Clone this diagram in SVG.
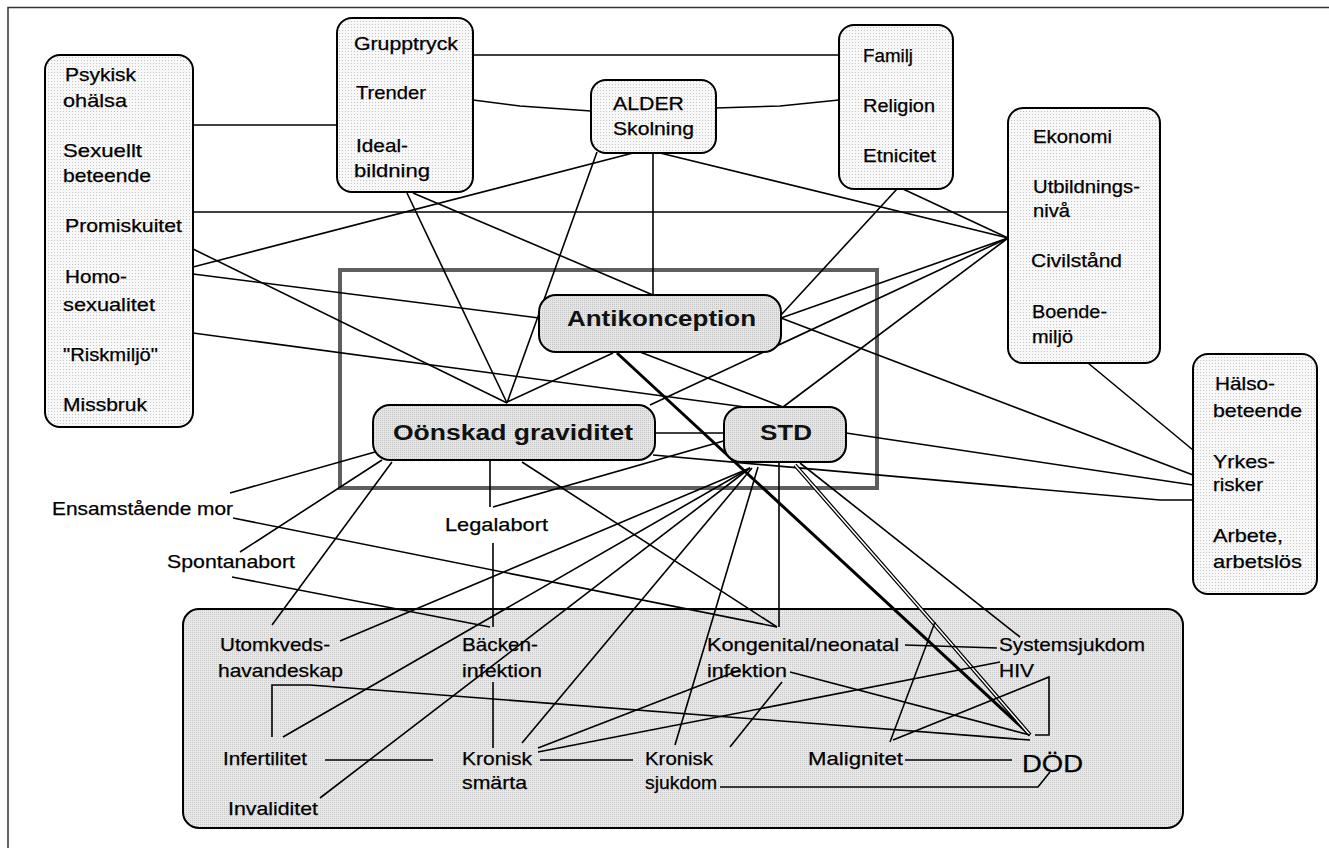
<svg xmlns="http://www.w3.org/2000/svg" width="1329" height="848" viewBox="0 0 1329 848">
<defs>
<pattern id="pLight" width="3" height="3" patternUnits="userSpaceOnUse"><rect width="3" height="3" fill="#f8f8f8"/><rect width="1" height="1" fill="#c4c4c4"/></pattern>
<pattern id="pMid" width="2" height="2" patternUnits="userSpaceOnUse"><rect width="2" height="2" fill="#e6e6e6"/><rect width="1" height="1" fill="#c2c2c2"/></pattern>
<pattern id="pBottom" width="2" height="2" patternUnits="userSpaceOnUse"><rect width="2" height="2" fill="#e8e8e8"/><rect width="1" height="1" fill="#c8c8c8"/></pattern>
</defs>
<style>
.box{stroke:#000;stroke-width:2}
.t{font-family:"Liberation Sans",Arial,sans-serif;font-size:19px;fill:#000;stroke:#000;stroke-width:0.25}
.b{font-family:"Liberation Sans",Arial,sans-serif;font-size:22px;font-weight:bold;fill:#111}
.c line,.c polyline{stroke:#000;stroke-width:1.6;fill:none}
</style>
<rect width="1329" height="848" fill="#fff"/>
<path d="M8,848 V7.5 H1329" fill="none" stroke="#333" stroke-width="1.5"/>

<g id="bottom-box">
<rect class="box" x="183" y="609" width="1000" height="219" rx="16" fill="url(#pBottom)"/>
</g>
<g id="center-frame">
<rect x="340" y="270" width="537" height="218" fill="none" stroke="#5e5e5e" stroke-width="4"/>
</g>

<g class="c" id="connectors">
<line x1="193" y1="125" x2="337" y2="125"/>
<line x1="473" y1="55" x2="839" y2="55"/>
<polyline points="473,100 520,106 591,111"/>
<polyline points="716,108 780,106 839,100"/>
<line x1="193" y1="212" x2="1008" y2="212"/>
<line x1="193" y1="249" x2="507" y2="403"/>
<line x1="193" y1="267" x2="633" y2="153"/>
<line x1="193" y1="274" x2="539" y2="318"/>
<line x1="193" y1="333" x2="745" y2="407"/>
<line x1="407" y1="193" x2="507" y2="403"/>
<line x1="413" y1="193" x2="653" y2="295"/>
<line x1="653" y1="153" x2="653" y2="295"/>
<line x1="597" y1="152" x2="507" y2="403"/>
<line x1="660" y1="153" x2="1008" y2="238"/>
<line x1="897" y1="189" x2="781" y2="315"/>
<line x1="903" y1="189" x2="1008" y2="238"/>
<line x1="1008" y1="238" x2="781" y2="318"/>
<line x1="1008" y1="238" x2="650" y2="405"/>
<line x1="1008" y1="238" x2="783" y2="407"/>
<line x1="613" y1="353" x2="507" y2="402"/>
<line x1="640" y1="352" x2="783" y2="407"/>
<line x1="617" y1="353" x2="1030" y2="735" style="stroke-width:3"/>
<line x1="781" y1="318" x2="1193" y2="475"/>
<line x1="846" y1="433" x2="1193" y2="485"/>
<polyline points="653,455 1160,500 1193,500"/>
<line x1="1088" y1="363" x2="1193" y2="450"/>
<line x1="655" y1="433" x2="724" y2="433"/>
<line x1="490" y1="460" x2="490" y2="507"/>
<line x1="493" y1="507" x2="727" y2="440"/>
<line x1="493" y1="543" x2="493" y2="627"/>
<line x1="493" y1="682" x2="493" y2="748"/>
<line x1="230" y1="493" x2="375" y2="452"/>
<line x1="233" y1="518" x2="777" y2="627"/>
<line x1="240" y1="552" x2="382" y2="460"/>
<line x1="232" y1="577" x2="490" y2="627"/>
<line x1="272" y1="625" x2="392" y2="462"/>
<line x1="340" y1="641" x2="750" y2="468"/>
<line x1="283" y1="737" x2="750" y2="468"/>
<line x1="320" y1="798" x2="750" y2="468"/>
<line x1="522" y1="743" x2="752" y2="468"/>
<line x1="779" y1="462" x2="779" y2="627"/>
<line x1="522" y1="462" x2="777" y2="627"/>
<polyline points="272,737 272,685 310,685 1030,740"/>
<line x1="325" y1="760" x2="433" y2="760"/>
<line x1="540" y1="760" x2="633" y2="760"/>
<line x1="905" y1="760" x2="1012" y2="760"/>
<polyline points="720,787 1038,787 1050,772"/>
<polyline points="795,465 935,625 1030,735" style="stroke-width:4"/>
<polyline points="795,465 935,625 1030,735" style="stroke:#fff;stroke-width:1.5"/>
<line x1="800" y1="463" x2="1020" y2="637"/>
<line x1="758" y1="467" x2="675" y2="745"/>
<polyline points="1035,735 1049,735 1049,677 893,740"/>
<line x1="935" y1="622" x2="890" y2="742"/>
<line x1="790" y1="672" x2="1030" y2="735"/>
<line x1="905" y1="645" x2="997" y2="648"/>
<line x1="538" y1="748" x2="740" y2="670"/>
<line x1="538" y1="752" x2="1000" y2="662"/>
<line x1="782" y1="682" x2="730" y2="747"/>
</g>

<g id="n-personal">
<rect class="box" x="45" y="55" width="148" height="372" rx="15" fill="url(#pLight)"/>
<text class="t" x="65" y="81" textLength="71" lengthAdjust="spacingAndGlyphs">Psykisk</text>
<text class="t" x="63" y="107" textLength="64" lengthAdjust="spacingAndGlyphs">ohälsa</text>
<text class="t" x="63" y="157" textLength="79" lengthAdjust="spacingAndGlyphs">Sexuellt</text>
<text class="t" x="63" y="182" textLength="88" lengthAdjust="spacingAndGlyphs">beteende</text>
<text class="t" x="65" y="232" textLength="117" lengthAdjust="spacingAndGlyphs">Promiskuitet</text>
<text class="t" x="65" y="283" textLength="62" lengthAdjust="spacingAndGlyphs">Homo-</text>
<text class="t" x="63" y="311" textLength="92" lengthAdjust="spacingAndGlyphs">sexualitet</text>
<text class="t" x="63" y="361" textLength="95" lengthAdjust="spacingAndGlyphs">"Riskmiljö"</text>
<text class="t" x="63" y="411" textLength="84" lengthAdjust="spacingAndGlyphs">Missbruk</text>
</g>
<g id="n-group">
<rect class="box" x="337" y="18" width="136" height="174" rx="15" fill="url(#pLight)"/>
<text class="t" x="354" y="50" textLength="104" lengthAdjust="spacingAndGlyphs">Grupptryck</text>
<text class="t" x="356" y="99" textLength="70" lengthAdjust="spacingAndGlyphs">Trender</text>
<text class="t" x="356" y="152" textLength="52" lengthAdjust="spacingAndGlyphs">Ideal-</text>
<text class="t" x="354" y="177" textLength="76" lengthAdjust="spacingAndGlyphs">bildning</text>
</g>
<g id="n-alder">
<rect class="box" x="591" y="80" width="125" height="73" rx="15" fill="url(#pLight)"/>
<text class="t" x="613" y="110" textLength="71" lengthAdjust="spacingAndGlyphs">ALDER</text>
<text class="t" x="613" y="135" textLength="81" lengthAdjust="spacingAndGlyphs">Skolning</text>
</g>
<g id="n-familj">
<rect class="box" x="839" y="25" width="114" height="164" rx="15" fill="url(#pLight)"/>
<text class="t" x="863" y="62" textLength="50" lengthAdjust="spacingAndGlyphs">Familj</text>
<text class="t" x="863" y="112" textLength="72" lengthAdjust="spacingAndGlyphs">Religion</text>
<text class="t" x="863" y="162" textLength="73" lengthAdjust="spacingAndGlyphs">Etnicitet</text>
</g>
<g id="n-ekonomi">
<rect class="box" x="1008" y="108" width="152" height="255" rx="15" fill="url(#pLight)"/>
<text class="t" x="1033" y="143" textLength="79" lengthAdjust="spacingAndGlyphs">Ekonomi</text>
<text class="t" x="1033" y="193" textLength="107" lengthAdjust="spacingAndGlyphs">Utbildnings-</text>
<text class="t" x="1033" y="217" textLength="37" lengthAdjust="spacingAndGlyphs">nivå</text>
<text class="t" x="1031" y="267" textLength="91" lengthAdjust="spacingAndGlyphs">Civilstånd</text>
<text class="t" x="1032" y="318" textLength="75" lengthAdjust="spacingAndGlyphs">Boende-</text>
<text class="t" x="1032" y="343" textLength="41" lengthAdjust="spacingAndGlyphs">miljö</text>
</g>
<g id="n-halso">
<rect class="box" x="1193" y="354" width="124" height="240" rx="15" fill="url(#pLight)"/>
<text class="t" x="1215" y="390" textLength="60" lengthAdjust="spacingAndGlyphs">Hälso-</text>
<text class="t" x="1213" y="417" textLength="89" lengthAdjust="spacingAndGlyphs">beteende</text>
<text class="t" x="1213" y="468" textLength="62" lengthAdjust="spacingAndGlyphs">Yrkes-</text>
<text class="t" x="1213" y="491" textLength="50" lengthAdjust="spacingAndGlyphs">risker</text>
<text class="t" x="1213" y="542" textLength="70" lengthAdjust="spacingAndGlyphs">Arbete,</text>
<text class="t" x="1213" y="568" textLength="89" lengthAdjust="spacingAndGlyphs">arbetslös</text>
</g>
<g id="n-antikonception">
<rect class="box" x="539" y="295" width="242" height="57" rx="17" fill="url(#pMid)"/>
<text class="b" x="567" y="326" textLength="189" lengthAdjust="spacingAndGlyphs">Antikonception</text>
</g>
<g id="n-oonskad">
<rect class="box" x="373" y="405" width="282" height="55" rx="17" fill="url(#pMid)"/>
<text class="b" x="393" y="440" textLength="240" lengthAdjust="spacingAndGlyphs">Oönskad graviditet</text>
</g>
<g id="n-std">
<rect class="box" x="724" y="407" width="122" height="55" rx="17" fill="url(#pMid)"/>
<text class="b" x="760" y="440" textLength="52" lengthAdjust="spacingAndGlyphs">STD</text>
</g>
<g id="n-ensam"><text class="t" x="52" y="515" textLength="181" lengthAdjust="spacingAndGlyphs">Ensamstående mor</text></g>
<g id="n-spontan"><text class="t" x="167" y="568" textLength="128" lengthAdjust="spacingAndGlyphs">Spontanabort</text></g>
<g id="n-legal"><text class="t" x="445" y="531" textLength="103" lengthAdjust="spacingAndGlyphs">Legalabort</text></g>
<g id="n-utomkveds">
<text class="t" x="220" y="651" textLength="110" lengthAdjust="spacingAndGlyphs">Utomkveds-</text>
<text class="t" x="218" y="677" textLength="125" lengthAdjust="spacingAndGlyphs">havandeskap</text>
</g>
<g id="n-backen">
<text class="t" x="462" y="651" textLength="76" lengthAdjust="spacingAndGlyphs">Bäcken-</text>
<text class="t" x="462" y="677" textLength="80" lengthAdjust="spacingAndGlyphs">infektion</text>
</g>
<g id="n-kongenital">
<text class="t" x="707" y="651" textLength="192" lengthAdjust="spacingAndGlyphs">Kongenital/neonatal</text>
<text class="t" x="707" y="677" textLength="80" lengthAdjust="spacingAndGlyphs">infektion</text>
</g>
<g id="n-system">
<text class="t" x="999" y="651" textLength="146" lengthAdjust="spacingAndGlyphs">Systemsjukdom</text>
<text class="t" x="999" y="677" textLength="35" lengthAdjust="spacingAndGlyphs">HIV</text>
</g>
<g id="n-infertilitet"><text class="t" x="223" y="765" textLength="84" lengthAdjust="spacingAndGlyphs">Infertilitet</text></g>
<g id="n-kronisk-smarta">
<text class="t" x="462" y="765" textLength="70" lengthAdjust="spacingAndGlyphs">Kronisk</text>
<text class="t" x="462" y="789" textLength="65" lengthAdjust="spacingAndGlyphs">smärta</text>
</g>
<g id="n-kronisk-sjukdom">
<text class="t" x="645" y="765" textLength="68" lengthAdjust="spacingAndGlyphs">Kronisk</text>
<text class="t" x="645" y="789" textLength="72" lengthAdjust="spacingAndGlyphs">sjukdom</text>
</g>
<g id="n-malignitet"><text class="t" x="808" y="765" textLength="95" lengthAdjust="spacingAndGlyphs">Malignitet</text></g>
<g id="n-dod"><text class="t" x="1022" y="772" style="font-size:24px" textLength="61" lengthAdjust="spacingAndGlyphs">DÖD</text></g>
<g id="n-invaliditet"><text class="t" x="228" y="815" textLength="90" lengthAdjust="spacingAndGlyphs">Invaliditet</text></g>
</svg>
